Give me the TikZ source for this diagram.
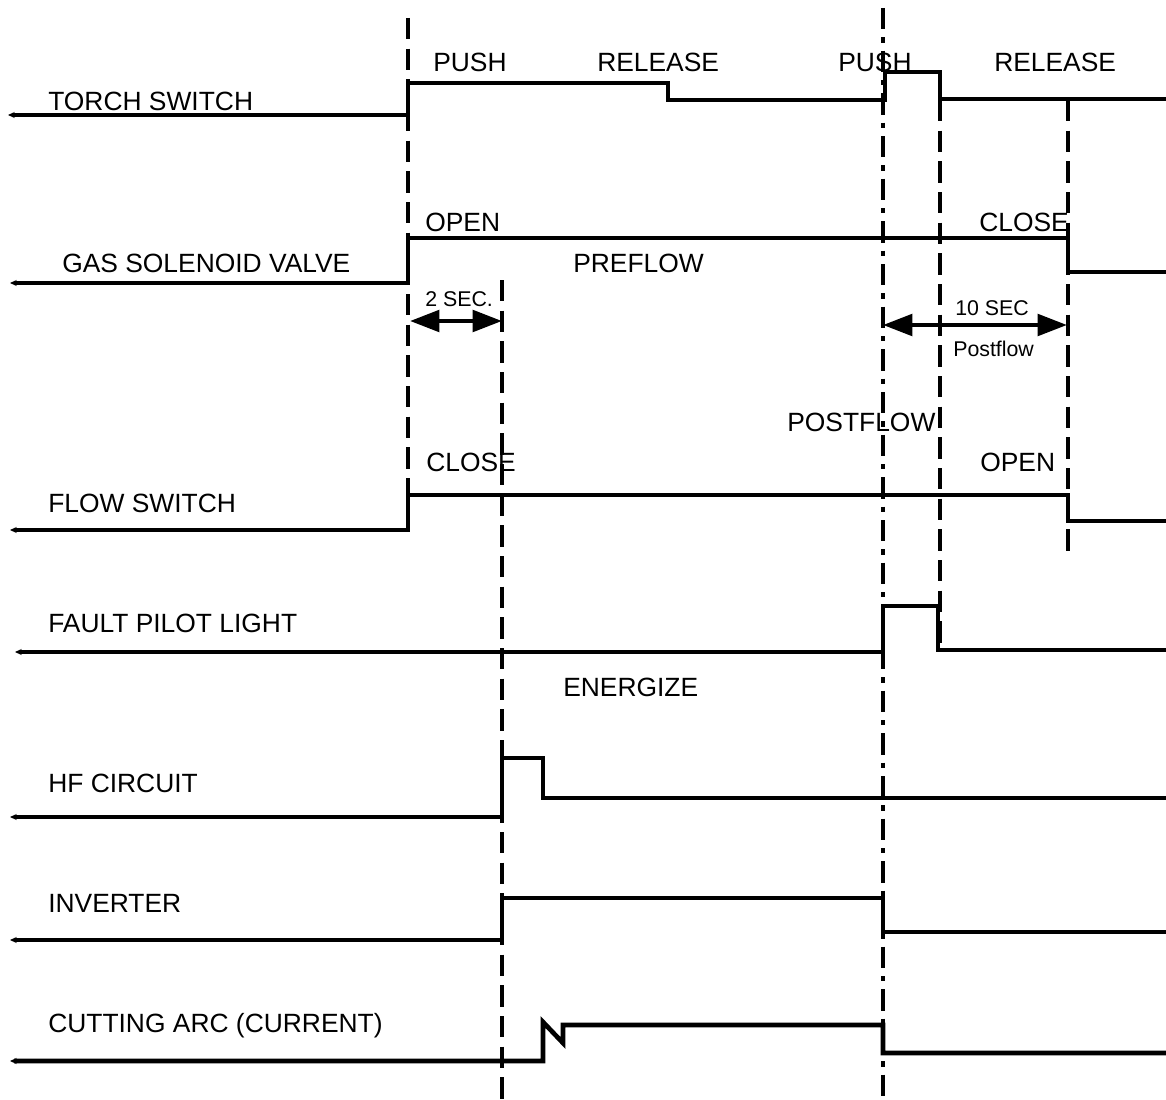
\documentclass[tikz,border=0pt]{standalone}
\usepackage{fontspec}
\setmainfont{Liberation Sans}
\usetikzlibrary{arrows.meta}

\begin{document}
\begin{tikzpicture}[x=0.75pt, y=-0.75pt,
  signal/.style={line width=3.5pt, {Stealth[length=5pt,width=4.5pt]}-},
  marker/.style={line width=3.5pt, dash pattern=on 16pt off 7pt},
  markerdot/.style={line width=3.5pt, dash pattern=on 16pt off 6pt on 4pt off 6pt},
  sig/.style={anchor=base west, inner sep=0pt, font=\fontsize{19.8}{22}\selectfont},
  note/.style={anchor=base west, inner sep=0pt, font=\fontsize{16}{18}\selectfont},
  span/.style={line width=3.2pt, {Triangle[length=22pt,width=16pt]}-{Triangle[length=22pt,width=16pt]}}
]
  \useasboundingbox (0,0) rectangle (1166,1099);

  %% Signal names
  \node[sig] (torch) at (48,110) {TORCH SWITCH};
  \node[sig] (gas) at (62,272) {GAS SOLENOID VALVE};
  \node[sig] (flow) at (48,512) {FLOW SWITCH};
  \node[sig] (fault) at (48,632) {FAULT PILOT LIGHT};
  \node[sig] (hf) at (48,792) {HF CIRCUIT};
  \node[sig] (inv) at (48,912) {INVERTER};
  \node[sig] (arc) at (48,1032) {CUTTING ARC (CURRENT)};

  %% Waveforms
  \draw[signal] (8,115) -| (408,83) -| (668,100) -| (885,72) -| (940,99) -- (1166,99);
  \draw[signal] (10,283) -| (408,238) -| (1068,272) -- (1166,272);
  \draw[signal] (10,530) -| (408,495) -| (1068,521) -- (1166,521);
  \draw[signal] (15,652) -| (883,606) -| (938,650) -- (1166,650);
  \draw[signal] (10,817) -| (502,758) -| (543,798) -- (1166,798);
  \draw[signal] (10,940) -| (502,898) -| (883,932) -- (1166,932);
  \draw[signal] (10,1061) -| (543,1022) -- (563,1043) -- (563,1025) -| (883,1053) -- (1166,1053);

  %% Event markers
  \draw[marker] (408,18) -- (408,495);
  \draw[marker] (502,280) -- (502,1099);
  \draw[markerdot] (883,8) -- (883,1099);
  \draw[marker] (940,100) -- (940,650);
  \draw[marker] (1068,100) -- (1068,555);

  %% State labels
  \node[sig] (push1) at (433,71) {PUSH};
  \node[sig] (rel1) at (597,71) {RELEASE};
  \node[sig] (push2) at (838,71) {PUSH};
  \node[sig] (rel2) at (994,71) {RELEASE};
  \node[sig] (open1) at (425,231) {OPEN};
  \node[sig] (pre) at (573,272) {PREFLOW};
  \node[sig] (close1) at (979,231) {CLOSE};
  \node[sig] (post) at (787,431) {POSTFLOW};
  \node[sig] (close2) at (426,471) {CLOSE};
  \node[sig] (open2) at (980,471) {OPEN};
  \node[sig] (ener) at (563,696) {ENERGIZE};

  %% Timing spans
  \coordinate (s2a) at (410,321);
  \coordinate (s2b) at (502,321);
  \draw[span] (s2a) -- (s2b);
  \node[note] (sec2) at (425,306) {2 SEC.};
  \coordinate (s10a) at (883,325);
  \coordinate (s10b) at (1067,325);
  \draw[span] (s10a) -- (s10b);
  \node[note] (sec10) at (955,315) {10 SEC};
  \node[note] (pf) at (953,356) {Postflow};
\end{tikzpicture}
\end{document}
